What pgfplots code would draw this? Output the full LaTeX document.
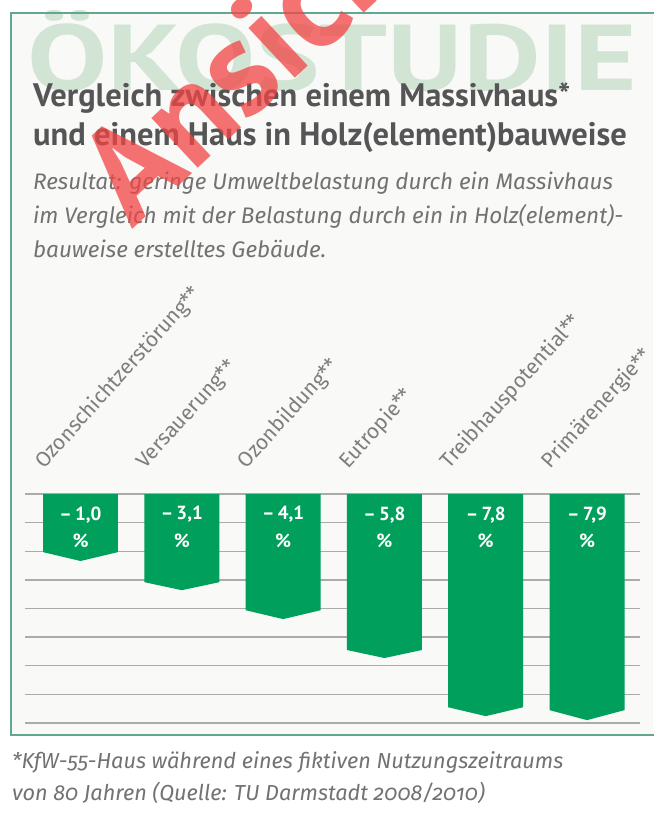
\documentclass[border=0pt]{standalone}
\usepackage{fontspec}
\setmainfont{PT Sans}
\newfontfamily\footfont[Numbers=OldStyle]{Fira Sans}
\newfontfamily\labfont{Fira Sans}
\usepackage{graphicx}
\usepackage{pgfplots}
\pgfplotsset{compat=1.18}
\definecolor{barG}{HTML}{00A05C}
\definecolor{frameC}{HTML}{62A891}
\definecolor{wmG}{HTML}{D2E5D5}
\definecolor{titleC}{HTML}{555555}
\definecolor{subC}{HTML}{727272}
\definecolor{labC}{HTML}{7E7E7E}
\definecolor{gridC}{HTML}{ABABAB}
\definecolor{stampC}{HTML}{F24444}
\definecolor{bgC}{HTML}{F9F9F8}
\begin{document}
\begin{tikzpicture}
\useasboundingbox (0,0) rectangle (653pt,-816pt);
\fill[white] (0,0) rectangle (653pt,-816pt);
\begin{scope}[x=1pt,y=-1pt]
\fill[bgC] (11,13) rectangle (653,735);
\node[anchor=south west, inner sep=0, text=wmG] at (27,92) {\resizebox{610pt}{80pt}{\bfseries ÖKOSTUDIE}};
\draw[frameC, line width=2pt] (660,13) -- (11,13) -- (11,735) -- (660,735);
% title
\node[anchor=base west, inner sep=0, text=titleC] at (33,106) {\fontsize{32.5}{34}\selectfont\bfseries Vergleich zwischen einem Massivhaus*};
\node[anchor=base west, inner sep=0, text=titleC] at (33,145) {\fontsize{32.5}{34}\selectfont\bfseries und einem Haus in Holz(element)bauweise};
% subtitle
\node[anchor=base west, inner sep=0, text=subC] at (33,189) {\fontsize{22.5}{26}\selectfont\labfont\itshape Resultat: geringe Umweltbelastung durch ein Massivhaus};
\node[anchor=base west, inner sep=0, text=subC] at (33,223) {\fontsize{22.5}{26}\selectfont\labfont\itshape im Vergleich mit der Belastung durch ein in Holz(element)-};
\node[anchor=base west, inner sep=0, text=subC] at (33,257) {\fontsize{22.5}{26}\selectfont\labfont\itshape bauweise erstelltes Gebäude.};
% footnote
\node[anchor=base west, inner sep=0, text=subC] at (12,768) {\fontsize{21.7}{24}\selectfont\footfont\itshape *KfW-55-Haus während eines fiktiven Nutzungszeitraums};
\node[anchor=base west, inner sep=0, text=subC] at (12,800) {\fontsize{21.7}{24}\selectfont\footfont\itshape von 80 Jahren (Quelle: TU Darmstadt 2008/2010)};
\end{scope}

\begin{axis}[
  at={(25pt,-723pt)}, anchor=south west,
  scale only axis, width=615pt, height=229pt,
  xmin=-0.548, xmax=5.523, ymin=-8, ymax=0,
  axis line style={draw=none}, major tick length=0pt,
  xtick=\empty, ytick={-8,-7,...,0}, yticklabels=\empty,
  ymajorgrids, grid style={gridC, line width=1.3pt},
  clip=false,
]
\addplot[fill=barG, draw=none] coordinates {(-0.37,0) (0.37,0) (0.37,-2.03) (0,-2.34) (-0.37,-2.03)};
\addplot[fill=barG, draw=none] coordinates {(0.63,0) (1.37,0) (1.37,-3.08) (1,-3.36) (0.63,-3.08)};
\addplot[fill=barG, draw=none] coordinates {(1.63,0) (2.37,0) (2.37,-4.06) (2,-4.37) (1.63,-4.06)};
\addplot[fill=barG, draw=none] coordinates {(2.63,0) (3.37,0) (3.37,-5.45) (3,-5.73) (2.63,-5.45)};
\addplot[fill=barG, draw=none] coordinates {(3.63,0) (4.37,0) (4.37,-7.45) (4,-7.76) (3.63,-7.45)};
\addplot[fill=barG, draw=none] coordinates {(4.63,0) (5.37,0) (5.37,-7.55) (5,-7.9) (4.63,-7.55)};
\node[text=white, font=\fontsize{19}{22}\selectfont\bfseries] at (axis cs:0,-0.72) {–\,1,0};
\node[text=white, font=\fontsize{19}{22}\selectfont\bfseries] at (axis cs:1,-0.72) {–\,3,1};
\node[text=white, font=\fontsize{19}{22}\selectfont\bfseries] at (axis cs:2,-0.72) {–\,4,1};
\node[text=white, font=\fontsize{19}{22}\selectfont\bfseries] at (axis cs:3,-0.72) {–\,5,8};
\node[text=white, font=\fontsize{19}{22}\selectfont\bfseries] at (axis cs:4,-0.72) {–\,7,8};
\node[text=white, font=\fontsize{19}{22}\selectfont\bfseries] at (axis cs:5,-0.72) {–\,7,9};
\pgfplotsinvokeforeach{0,...,5}{
  \node[text=white, font=\fontsize{19}{22}\selectfont\bfseries] at (axis cs:#1,-1.64) {\%};
}
\node[rotate=48, anchor=base west, inner sep=0, text=labC, font=\fontsize{21}{22}\selectfont\labfont] at (axis cs:-0.36,0.85) {Ozonschichtzerstörung**};
\node[rotate=48, anchor=base west, inner sep=0, text=labC, font=\fontsize{21}{22}\selectfont\labfont] at (axis cs:0.64,0.85) {Versauerung**};
\node[rotate=48, anchor=base west, inner sep=0, text=labC, font=\fontsize{21}{22}\selectfont\labfont] at (axis cs:1.64,0.85) {Ozonbildung**};
\node[rotate=48, anchor=base west, inner sep=0, text=labC, font=\fontsize{21}{22}\selectfont\labfont] at (axis cs:2.64,0.85) {Eutropie**};
\node[rotate=48, anchor=base west, inner sep=0, text=labC, font=\fontsize{21}{22}\selectfont\labfont] at (axis cs:3.64,0.85) {Treibhauspotential**};
\node[rotate=48, anchor=base west, inner sep=0, text=labC, font=\fontsize{21}{22}\selectfont\labfont] at (axis cs:4.64,0.85) {Primärenergie**};
\end{axis}

\begin{scope}[x=1pt,y=-1pt]
\clip (0,0) rectangle (653,816);
\node[rotate=43, anchor=base west, inner sep=0, text=stampC, opacity=0.75] at (132,230) {\fontsize{136}{136}\selectfont\bfseries Ansicht};
\end{scope}
\end{tikzpicture}
\end{document}
